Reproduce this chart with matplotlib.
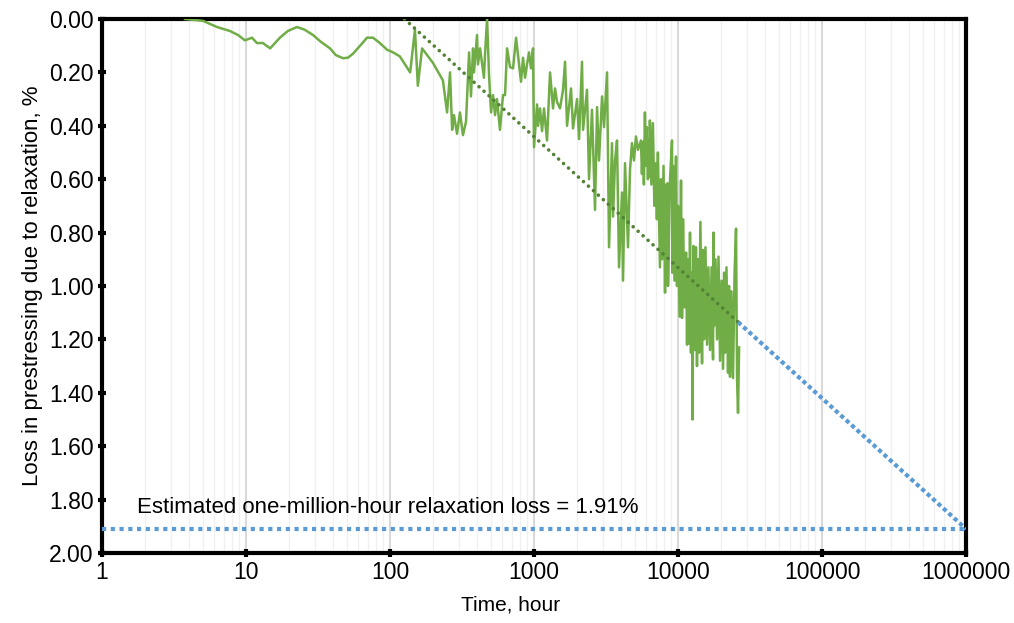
import numpy as np
import matplotlib.pyplot as plt
from matplotlib.ticker import FixedLocator, FuncFormatter, LogLocator, NullFormatter

plt.rcParams['font.family'] = ['Liberation Sans', 'DejaVu Sans']

# measured relaxation loss (time in hours, loss in %)
hours = [3.77, 5.03, 6.29, 7.74, 8.80, 9.84, 11.0, 11.9, 13.1, 14.7, 17.2, 19.5,
         22.6, 25.5, 29.2, 33, 38.3, 42, 47.2, 51, 55.3, 62, 69.2, 76.2, 85, 95.3,
         105, 117, 138, 149, 156, 167, 199,
         233, 249, 261, 270, 278, 292, 306, 321, 337, 354, 365, 377, 383, 402, 408,
         422, 435, 449, 457, 472, 487, 503, 519, 536, 553, 580, 609, 629, 650, 681,
         715, 750, 774, 812, 839, 866, 894, 923, 953, 984, 1000, 1050, 1067, 1101,
         1137, 1173, 1231, 1292, 1355, 1399, 1444, 1516, 1590, 1642, 1695, 1807,
         1866, 1990, 2054, 2154, 2190, 2333, 2409, 2527, 2652, 2740, 2827, 2968,
         3063, 3214, 3318, 3480, 3538, 3652, 3770, 3891, 4083, 4150, 4284, 4494,
         4639, 4789, 4943, 5103, 5268,
         5527, 5615, 5705, 5795, 5889, 5985, 6079, 6180, 6276, 6330, 6376, 6530,
         6691, 6850, 7021, 7130, 7248, 7490, 7620, 7743, 7930, 8123, 8250, 8386,
         8450, 8520, 8800, 9080, 9150, 9225, 9450, 9680, 9840, 10000, 10250, 10490,
         10660, 10830, 11100, 11370, 11550, 11730, 11920, 12110, 12300, 12500,
         12600, 12800, 13120, 13320, 13540, 13760, 13990, 14300, 14680, 14900,
         15160, 15500, 15900, 16250, 16680, 17100, 17500, 17640, 17780, 18200,
         18660, 19100, 19580, 20050, 20540, 20900, 21200, 21700, 22240, 22600,
         22960, 23500, 24090, 24700, 25280, 25700, 26100, 26550]
loss = [0.00, 0.007, 0.03, 0.045, 0.06, 0.08, 0.07, 0.09, 0.09, 0.11, 0.07, 0.045,
        0.03, 0.04, 0.06, 0.085, 0.11, 0.135, 0.147, 0.145, 0.13, 0.10, 0.07, 0.07, 0.09, 0.115,
        0.125, 0.14, 0.20, 0.04, 0.25, 0.11, 0.165,
        0.23, 0.35, 0.20, 0.415, 0.36, 0.43, 0.35, 0.435, 0.385, 0.125, 0.29, 0.11, 0.20, 0.06, 0.17,
        0.11, 0.165, 0.22, 0.13, 0.00, 0.21, 0.35, 0.285, 0.36, 0.30, 0.415, 0.285, 0.285, 0.11, 0.18,
        0.185, 0.07, 0.135, 0.235, 0.145, 0.22, 0.17, 0.125, 0.185, 0.11, 0.48, 0.32, 0.40, 0.335,
        0.42, 0.335, 0.455, 0.20, 0.335, 0.26, 0.31, 0.335, 0.265, 0.16, 0.40, 0.26,
        0.41, 0.30, 0.45, 0.16, 0.415, 0.265, 0.60, 0.34, 0.715, 0.33, 0.53, 0.29,
        0.405, 0.20, 0.855, 0.465, 0.74, 0.53, 0.455, 0.93, 0.65, 0.98, 0.54, 0.855,
        0.565, 0.465, 0.53, 0.44, 0.49,
        0.455, 0.58, 0.46, 0.62, 0.35, 0.55, 0.405, 0.60, 0.45, 0.59, 0.38, 0.62,
        0.39, 0.70, 0.54, 0.75, 0.50, 0.93, 0.60, 0.90, 0.55, 1.025, 0.62, 0.98,
        0.615, 1.00, 0.60, 0.455, 0.95, 0.55, 0.98, 0.515, 1.00, 0.70, 1.115, 0.605,
        1.12, 0.75, 1.08, 0.875, 1.22, 0.90, 1.215, 0.80, 1.25, 0.95,
        1.50, 0.85, 1.24, 0.855, 1.30, 0.90, 1.25, 0.76, 1.29, 0.865,
        1.20, 0.855, 1.22, 0.93, 1.24, 0.93, 1.275, 0.80, 1.15, 0.90,
        1.20, 0.89, 1.28, 0.98, 1.31, 0.95, 1.25, 0.93, 1.325, 1.00,
        1.34, 1.02, 1.345, 0.95, 0.785, 1.35, 1.475, 1.23]

# log trend fitted to the data, extrapolated to one million hours
trend_hours = [126, 26100]
trend_loss = [0.0, 1.135]
extrap_hours = [26100, 1000000]
extrap_loss = [1.135, 1.91]
million_loss = 1.91

x_ticks = [1, 10, 100, 1000, 10000, 100000, 1000000]
y_ticks = [0.0, 0.2, 0.4, 0.6, 0.8, 1.0, 1.2, 1.4, 1.6, 1.8, 2.0]

fig = plt.figure(figsize=(10.14, 6.23), dpi=100)
ax = fig.add_axes([0.1006, 0.1124, 0.8521, 0.8571])

ax.plot(hours, loss, color='#70AD47', lw=1.8, zorder=3)
ax.plot(trend_hours, trend_loss, color='#548235', lw=2.6, dashes=(0.01, 1.85),
        dash_capstyle='round', zorder=4)
ax.plot(extrap_hours, extrap_loss, color='#5B9BD5', lw=3, dashes=(1, 0.75), zorder=4)
ax.plot([x_ticks[0], x_ticks[-1]], [million_loss, million_loss], color='#5B9BD5',
        lw=3, dashes=(1, 1.1), zorder=4)

ax.text(1.75, 1.83, 'Estimated one-million-hour relaxation loss = %.2f%%' % million_loss,
        fontsize=16, va='center', ha='left')

ax.set_xscale('log')
ax.set_xlim(1, 1000000)
ax.set_ylim(2.0, 0.0)
ax.xaxis.set_major_locator(FixedLocator(x_ticks))
ax.xaxis.set_major_formatter(FuncFormatter(lambda v, p: '%d' % round(v)))
ax.xaxis.set_minor_locator(LogLocator(base=10, subs=np.arange(2, 10)))
ax.xaxis.set_minor_formatter(NullFormatter())
ax.set_yticks(y_ticks)
ax.yaxis.set_major_formatter(FuncFormatter(lambda v, p: '%.2f' % v))

ax.grid(True, which='major', axis='x', color='#d9d9d9', lw=1.5, zorder=0)
ax.grid(True, which='minor', axis='x', color='#f0f0f0', lw=1.0, zorder=0)
ax.set_axisbelow(True)

for s in ax.spines.values():
    s.set_linewidth(3)
ax.tick_params(axis='both', which='major', direction='inout', length=6, width=3,
               labelsize=16.5, pad=3)
ax.tick_params(axis='x', which='minor', length=0)

ax.set_xlabel('Time, hour', fontsize=15)
ax.xaxis.set_label_coords(0.473, -0.097)
ax.xaxis.label.set_va('center')
ax.set_ylabel('Loss in prestressing due to relaxation, %', fontsize=16, labelpad=4)

fig.savefig('out.png', dpi=100)
